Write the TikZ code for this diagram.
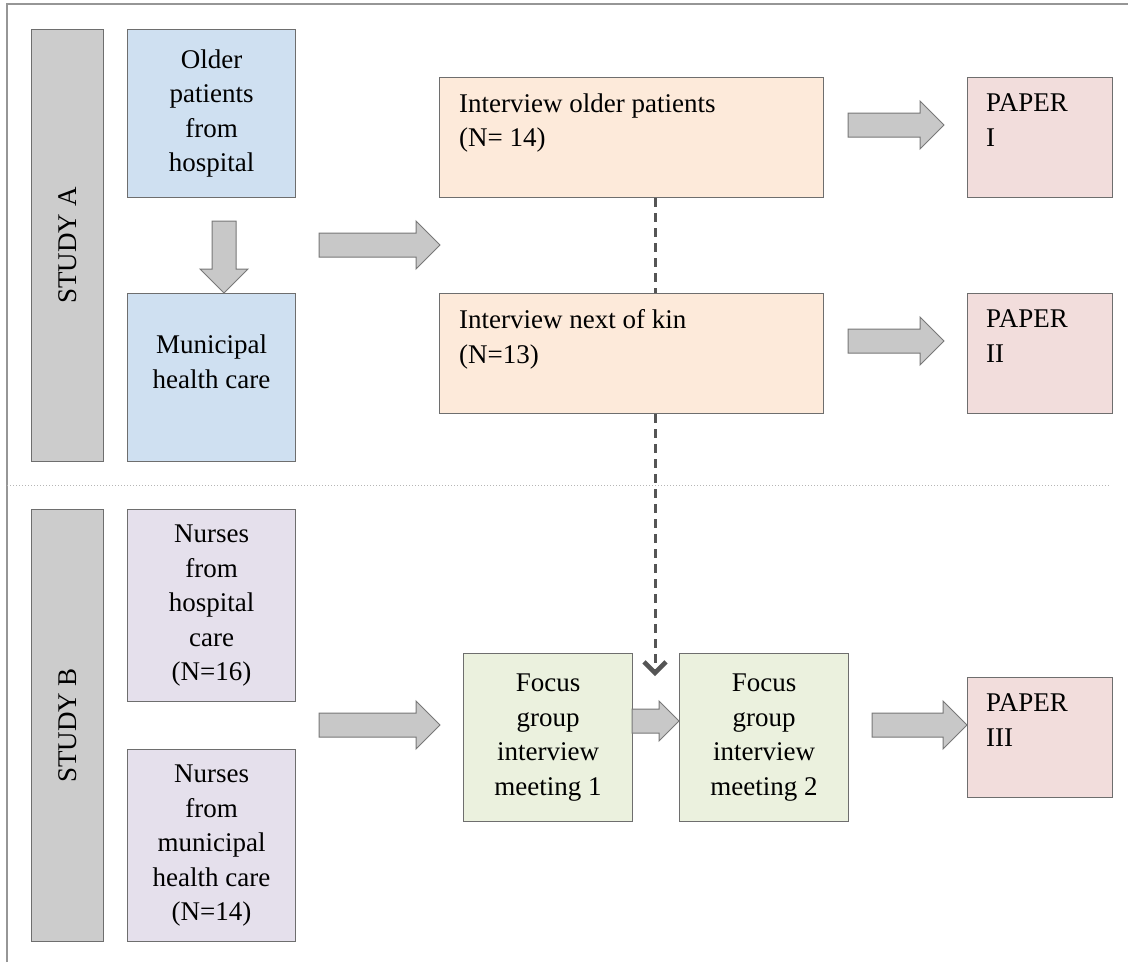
\documentclass[tikz,border=0pt]{standalone}
\usepackage{fontspec}
\setmainfont{Liberation Serif}
\usetikzlibrary{calc,arrows.meta}

\definecolor{boxline}{RGB}{110,110,110}
\definecolor{barfill}{RGB}{204,204,204}
\definecolor{bluefill}{RGB}{207,224,241}
\definecolor{orangefill}{RGB}{253,234,218}
\definecolor{pinkfill}{RGB}{242,221,220}
\definecolor{purplefill}{RGB}{229,224,236}
\definecolor{greenfill}{RGB}{235,241,222}
\definecolor{arrowfill}{RGB}{200,200,200}
\definecolor{arrowline}{RGB}{120,120,120}
\definecolor{dashcol}{RGB}{85,85,85}
\definecolor{framecol}{RGB}{150,150,150}

\begin{document}
\begin{tikzpicture}[x=1pt,y=-1pt,
    font=\fontsize{27}{34.5}\selectfont,
    box/.style={draw=boxline, line width=1.1pt, inner sep=0pt, anchor=north west, align=center},
    bar/.style={box, fill=barfill, minimum width=72pt, minimum height=432pt},
    toptext/.style={anchor=north west, align=left, inner sep=0pt},
    blk/.style={draw=arrowline, fill=arrowfill, line width=1pt, line join=miter},
    linkdash/.style={draw=dashcol, line width=3pt, dash pattern=on 9pt off 6pt},
    pics/blockarrow/.style args={#1/#2}{code={
        \draw[blk] (0,-12) -- ({#1-#2},-12) -- ({#1-#2},-#2) -- (#1,0)
            -- ({#1-#2},#2) -- ({#1-#2},12) -- (0,12) -- cycle;
    }}
]
\useasboundingbox (0,0) rectangle (1128,962);

% Frame
\draw[framecol, line width=1.5pt] (7,962) -- (7,4) -- (1128,4);
\draw[framecol!70, line width=1pt, dotted] (7,485) -- (1110,485);

% Study A
\node[bar] (sa) at (31,29) {};
\node[rotate=90] at (sa.center) {STUDY A};

\node[box, fill=bluefill, minimum width=168pt, minimum height=168pt] (olp) at (127,29)
    {Older\\patients\\from\\hospital};
\node[box, fill=bluefill, minimum width=168pt, minimum height=168pt] (mun) at (127,293) {};
\node[align=center, inner sep=0pt] at ($(mun.center)+(0,-16)$) {Municipal\\health care};

\node[box, fill=orangefill, minimum width=384pt, minimum height=120pt] (iop) at (439,77) {};
\node[toptext] at ($(iop.north west)+(20,16.5)$) {Interview older patients\\(N= 14)};
\node[box, fill=orangefill, minimum width=384pt, minimum height=120pt] (ikin) at (439,293) {};
\node[toptext] at ($(ikin.north west)+(20,16.5)$) {Interview next of kin\\(N=13)};

\node[box, fill=pinkfill, minimum width=145pt, minimum height=120pt] (p1) at (967,77) {};
\node[toptext] at ($(p1.north west)+(19,16.5)$) {PAPER\\I};
\node[box, fill=pinkfill, minimum width=145pt, minimum height=120pt] (p2) at (967,293) {};
\node[toptext] at ($(p2.north west)+(19,16.5)$) {PAPER\\II};

% Study B
\node[bar] (sb) at (31,509) {};
\node[rotate=90] at (sb.center) {STUDY B};

\node[box, fill=purplefill, minimum width=168pt, minimum height=192pt] (nho) at (127,509)
    {Nurses\\from\\hospital\\care\\(N=16)};
\node[box, fill=purplefill, minimum width=168pt, minimum height=192pt] (nmu) at (127,749)
    {Nurses\\from\\municipal\\health care\\(N=14)};

\node[box, fill=greenfill, minimum width=169pt, minimum height=168pt] (fg1) at (463,653)
    {Focus\\group\\interview\\meeting 1};
\node[box, fill=greenfill, minimum width=169pt, minimum height=168pt] (fg2) at (679,653)
    {Focus\\group\\interview\\meeting 2};

\node[box, fill=pinkfill, minimum width=145pt, minimum height=120pt] (p3) at (967,677) {};
\node[toptext] at ($(p3.north west)+(19,16.5)$) {PAPER\\III};

% Block arrows
\pic[rotate=-90] at (224,221) {blockarrow=72/24};
\pic at (319,245) {blockarrow=121/24};
\pic at (848,125) {blockarrow=96/24};
\pic at (848,341) {blockarrow=96/24};
\pic at (319,725) {blockarrow=121/24};
\pic at (632,721) {blockarrow=47/20};
\pic at (872,725) {blockarrow=95/24};

% Dashed link
\coordinate (dtip) at (655,676);
\draw[linkdash] (iop.south -| dtip) -- (ikin.north -| dtip);
\draw[linkdash, -{Straight Barb[length=11pt,width=22pt,line width=4.5pt]}] (ikin.south -| dtip) -- (dtip);

\end{tikzpicture}
\end{document}
